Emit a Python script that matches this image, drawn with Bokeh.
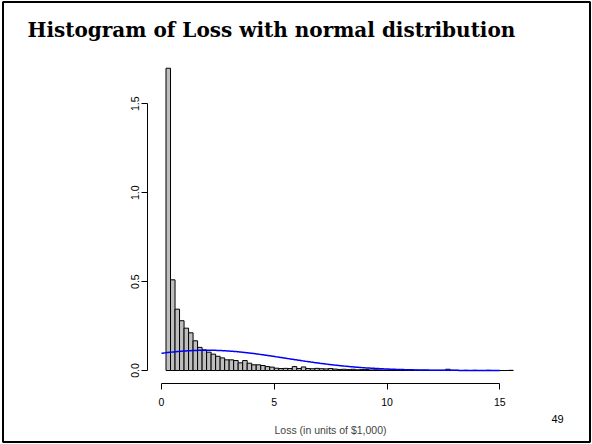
import numpy as np
from bokeh.plotting import figure
from bokeh.models import Range1d, FixedTicker, Label, BoxAnnotation, NumeralTickFormatter, LinearAxis
from bokeh.embed import file_html
from bokeh.resources import INLINE

# Histogram of Loss (density scale), bins of width 0.2 starting at 0.2
bin_start = 0.2
bin_width = 0.2
density = [
    1.70, 0.51, 0.345, 0.28, 0.238, 0.212, 0.167, 0.130, 0.116, 0.103,
    0.092, 0.080, 0.071, 0.060, 0.060, 0.056, 0.043, 0.056, 0.041, 0.032,
    0.032, 0.028, 0.022, 0.019, 0.013, 0.011, 0.012, 0.011, 0.022, 0.011,
    0.020, 0.011, 0.010, 0.012, 0.010, 0.009, 0.011, 0.008, 0.006, 0.007,
    0.005, 0.007, 0.004, 0.005, 0.006, 0.003, 0.004, 0.003, 0.002, 0.003,
    0.002, 0.001, 0.002, 0.001, 0.001, 0.002, 0.001, 0.001, 0.001, 0.001,
    0.001, 0.001, 0.007, 0.001, 0.001, 0.000, 0.001, 0.000, 0.001, 0.000,
    0.000, 0.001, 0.000, 0.000, 0.000, 0.000, 0.001,
]

# Fitted normal distribution overlaid on the histogram
normal_mean = 2.0
normal_sd = 3.5
curve_from, curve_to = 0.0, 15.0

x_ticks = [0, 5, 10, 15]
y_ticks = [0.0, 0.5, 1.0, 1.5]

title_text = "Histogram of Loss with normal distribution"
x_label = "Loss (in units of $1,000)"
page_number = "49"

W, H = 592, 444

lefts = np.array([bin_start + i * bin_width for i in range(len(density))])
rights = lefts + bin_width

# The plotting frame fills the whole slide; the axes sit at fixed data locations
p = figure(
    width=W, height=H, output_backend="svg", toolbar_location=None,
    x_range=Range1d(-7.140, 19.113), y_range=Range1d(-0.4162, 2.081),
    x_axis_location=None, y_axis_location=None,
    min_border=0,
)
p.outline_line_color = None
p.grid.visible = False
p.background_fill_color = "white"
p.border_fill_color = "white"

p.quad(left=lefts, right=rights, bottom=0, top=density,
       fill_color="#bebebe", line_color="black", line_width=1)

xs = np.linspace(curve_from, curve_to, 300)
ys = np.exp(-(xs - normal_mean) ** 2 / (2 * normal_sd ** 2)) / (normal_sd * np.sqrt(2 * np.pi))
p.line(xs, ys, line_color="blue", line_width=1.5)

xaxis = LinearAxis(fixed_location=-0.073, ticker=FixedTicker(ticks=x_ticks),
                   bounds=(x_ticks[0], x_ticks[-1]))
yaxis = LinearAxis(fixed_location=-0.643, ticker=FixedTicker(ticks=y_ticks),
                   bounds=(y_ticks[0], y_ticks[-1]),
                   formatter=NumeralTickFormatter(format="0.0"))
for ax in (xaxis, yaxis):
    ax.axis_line_color = "black"
    ax.axis_line_width = 1
    ax.major_tick_line_color = "black"
    ax.minor_tick_line_color = None
    ax.major_tick_in = 0
    ax.major_tick_out = 6
    ax.major_label_text_font = "Liberation Sans"
    ax.major_label_text_font_size = "10.5px"
    ax.major_label_text_color = "black"

xaxis.major_label_standoff = 9
xaxis.axis_label = x_label
xaxis.axis_label_text_font = "Liberation Sans"
xaxis.axis_label_text_font_size = "10.5px"
xaxis.axis_label_text_font_style = "normal"
xaxis.axis_label_standoff = 14

yaxis.major_label_orientation = "vertical"
yaxis.major_label_standoff = 2

p.add_layout(xaxis, "below")
p.add_layout(yaxis, "left")

p.add_layout(Label(x=27, y=H - 29, x_units="screen", y_units="screen", text=title_text,
                   text_font="DejaVu Serif", text_font_style="bold",
                   text_font_size="20px", text_color="black", text_baseline="middle"))
p.add_layout(Label(x=551, y=H - 418, x_units="screen", y_units="screen", text=page_number,
                   text_font="Liberation Sans", text_font_size="11px", text_color="black",
                   text_baseline="middle"))
p.add_layout(BoxAnnotation(left=2.5, right=589.5, top=H - 1.5, bottom=2.5,
                           left_units="screen", right_units="screen",
                           top_units="screen", bottom_units="screen",
                           fill_color=None, line_color="black", line_alpha=1.0,
                           line_width=2))

open("out.html", "w").write(file_html(p, INLINE))
